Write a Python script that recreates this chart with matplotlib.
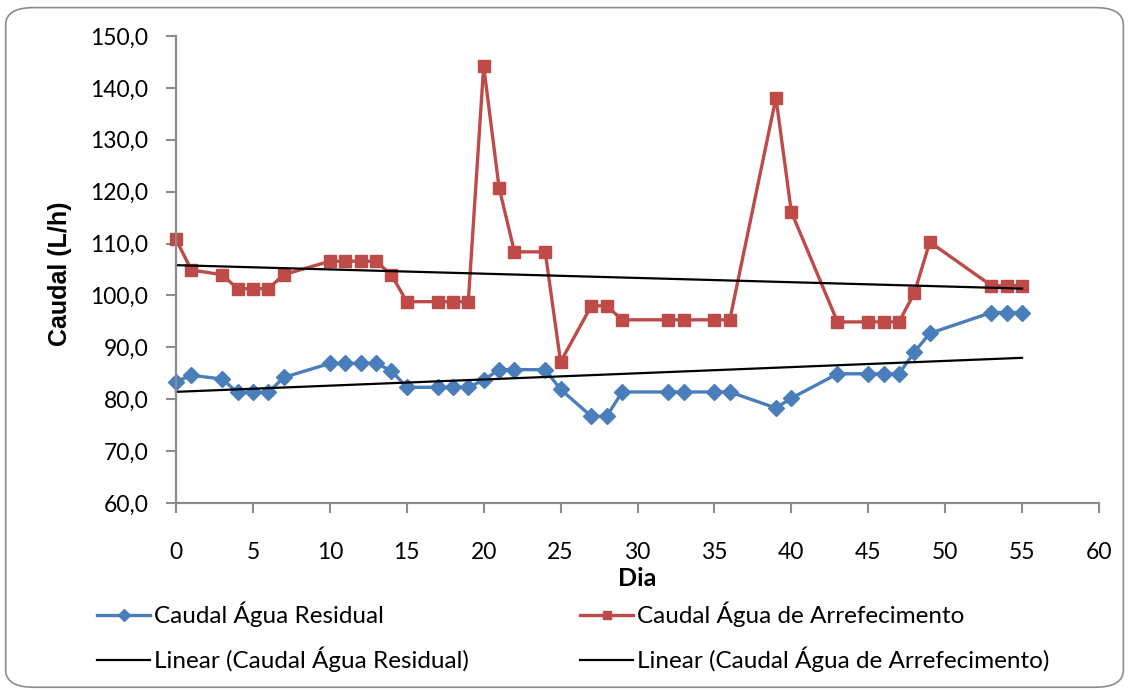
import numpy as np
import matplotlib
matplotlib.use('Agg')
import matplotlib.pyplot as plt
from matplotlib.patches import FancyBboxPatch

dias_res = [0, 1, 3, 4, 5, 6, 7, 10, 11, 12, 13, 14, 15, 17, 18, 19, 20, 21, 22, 24,
            25, 27, 28, 29, 32, 33, 35, 36, 39, 40, 43, 45, 46, 47, 48, 49, 53, 54, 55]
caudal_res = [83.4, 84.6, 83.9, 81.3, 81.3, 81.3, 84.2, 86.9, 86.9, 86.9, 86.9, 85.5,
              82.3, 82.3, 82.3, 82.3, 83.7, 85.7, 85.7, 85.7, 81.9, 76.7, 76.7, 81.4,
              81.4, 81.4, 81.4, 81.4, 78.3, 80.2, 84.9, 84.9, 84.9, 84.9, 89.1, 92.7,
              96.7, 96.7, 96.7]

dias_arr = dias_res
caudal_arr = [110.8, 104.9, 104.0, 101.3, 101.3, 101.3, 104.0, 106.6, 106.6, 106.6,
              106.6, 104.0, 98.8, 98.8, 98.8, 98.8, 144.2, 120.8, 108.4, 108.4, 87.2,
              98.0, 98.0, 95.3, 95.3, 95.3, 95.3, 95.3, 138.1, 116.1, 94.9, 94.9, 94.9,
              94.9, 100.5, 110.3, 101.9, 101.9, 101.9]

azul = '#4A7EBB'
verm = '#BE4B48'
cinza = '#8c8c8c'

fig = plt.figure(figsize=(11.29, 6.9), dpi=100)
ax = fig.add_axes([176 / 1129, 1 - 503 / 690, (1099 - 176) / 1129, (503 - 36) / 690])

# moldura arredondada
fig.patches.append(FancyBboxPatch((0.005, 0.004), 0.99, 0.985,
                                  boxstyle='round,pad=0,rounding_size=0.025',
                                  transform=fig.transFigure, fill=False,
                                  edgecolor=cinza, linewidth=1.2))

l1, = ax.plot(dias_res, caudal_res, color=azul, marker='D', markersize=8.3, lw=2.4,
              label='Caudal Água Residual')
l2, = ax.plot(dias_arr, caudal_arr, color=verm, marker='s', markersize=8, lw=2.4,
              label='Caudal Água de Arrefecimento')

# linhas de tendência (regressão linear, como no Excel)
x = np.array(dias_res, dtype=float)
p1 = np.polyfit(x, caudal_res, 1)
p2 = np.polyfit(x, caudal_arr, 1)
xt = np.array([0, 55])
l3, = ax.plot(xt, np.polyval(p1, xt), color='black', lw=1.6,
              label='Linear (Caudal Água Residual)')
l4, = ax.plot(xt, np.polyval(p2, xt), color='black', lw=1.6,
              label='Linear (Caudal Água de Arrefecimento)')

ax.set_xlim(0, 60)
ax.set_ylim(60, 150)
ax.set_xticks(range(0, 61, 5))
ax.set_yticks(range(60, 151, 10))
ax.set_yticklabels([f'{v},0' for v in range(60, 151, 10)])
ax.tick_params(labelsize=16.5, color=cinza, length=7, width=1.5)
ax.tick_params(axis='x', pad=21)
ax.tick_params(axis='y', pad=13)
for lab in ax.get_xticklabels() + ax.get_yticklabels():
    lab.set_family('Lato')
ax.spines['top'].set_visible(False)
ax.spines['right'].set_visible(False)
for s in ['left', 'bottom']:
    ax.spines[s].set_color(cinza)
    ax.spines[s].set_linewidth(1.6)
for ln in [l1, l2, l3, l4]:
    ln.set_clip_on(False)

ax.set_xlabel('Dia', fontsize=18, fontweight='bold', family='Lato')
ax.xaxis.set_label_coords(0.5, (503 - 579) / 467)
ax.xaxis.label.set_va('center')
ax.set_ylabel('Caudal (L/h)', fontsize=18, fontweight='bold', family='Liberation Sans')
ax.yaxis.set_label_coords((72 - 176) / 923, 0.49)

prop = {'family': 'Lato', 'size': 17.5}
kw = dict(loc='center left', frameon=False, prop=prop, handlelength=2.2,
          handletextpad=0.15, labelspacing=0.8, markerscale=0.75,
          borderpad=0, borderaxespad=0)
leg1 = fig.legend(handles=[l1, l3], bbox_to_anchor=(97 / 1129, 1 - 637 / 690), **kw)
leg2 = fig.legend(handles=[l2, l4], bbox_to_anchor=(580 / 1129, 1 - 637 / 690), **kw)

fig.savefig('out.png', dpi=100)
